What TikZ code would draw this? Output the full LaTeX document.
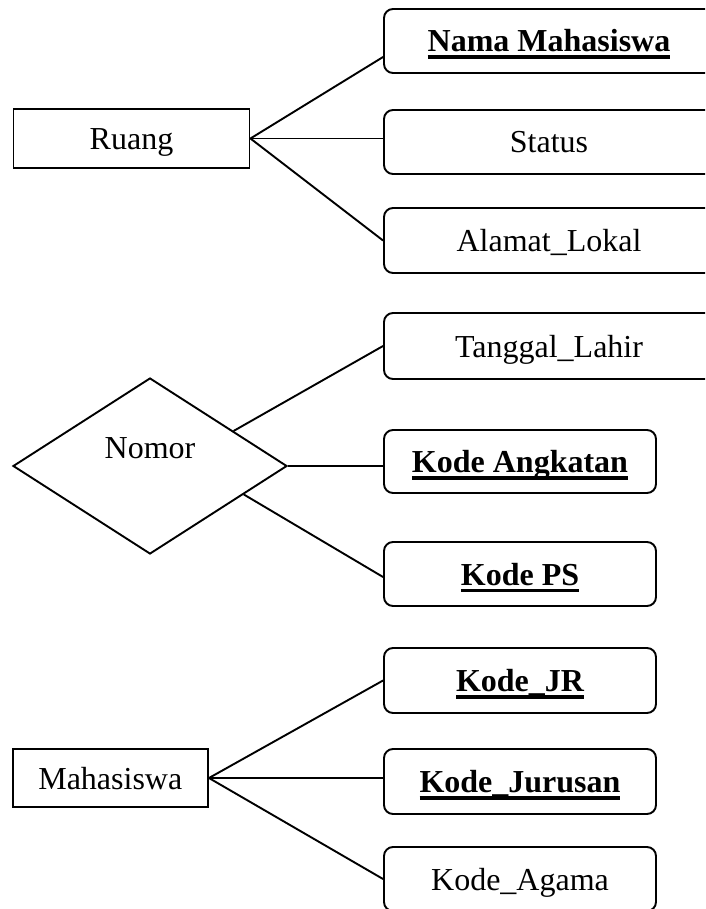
\documentclass[tikz,border=0pt]{standalone}
\usepackage{fontspec}
\setmainfont{Liberation Serif}
\usetikzlibrary{shapes.geometric,calc}
\newcommand{\ulbold}[1]{\setbox0=\hbox{\bfseries #1}\rlap{\raisebox{-7pt}{\rule{\wd0}{3.5pt}}}\box0}
\tikzset{
  ent/.style={draw, rectangle, line width=1.9pt, inner sep=0pt, text height=22pt, text depth=0pt, font=\fontsize{32}{38}\selectfont},
  attr/.style={draw, rectangle, rounded corners=9pt, line width=1.9pt, inner sep=0pt, text height=22pt, text depth=0pt, font=\fontsize{32}{38}\selectfont},
  wide/.style={minimum width=330pt},
  narrow/.style={minimum width=272pt},
  rel/.style={draw, diamond, line width=1.9pt, inner sep=0pt, minimum width=274pt, minimum height=176pt},
  lbl/.style={inner sep=0pt, text height=22pt, text depth=0pt, font=\fontsize{32}{38}\selectfont},
  conn/.style={line width=1.9pt}
}
\begin{document}
\begin{tikzpicture}[x=1pt,y=-1pt]
\useasboundingbox (0,0) rectangle (705,909);
\clip (0,0) rectangle (705,909);
\fill[white] (0,0) rectangle (705,909);
% entities
\node[ent, minimum width=236pt, minimum height=59pt] (ruang) at (131.5,138.5) {Ruang};
\node[ent, minimum width=195.4pt, minimum height=58pt] (mhs) at (110.3,778) {Mahasiswa};
\node[rel] (nomor) at (150,466) {};
\node[lbl] (nomortxt) at ($(nomor.center)+(0,-19)$) {Nomor};
% attributes
\node[attr, wide, minimum height=64pt] (nama) at (549,41) {\ulbold{Nama Mahasiswa}};
\node[attr, wide, minimum height=64pt] (status) at (549,142) {Status};
\node[attr, wide, minimum height=65pt] (alamat) at (549,240.5) {Alamat\_Lokal};
\node[attr, wide, minimum height=66pt] (tanggal) at (549,346) {Tanggal\_Lahir};
\node[attr, narrow, minimum height=63pt] (angkatan) at (520,461.5) {\ulbold{Kode Angkatan}};
\node[attr, narrow, minimum height=64pt] (ps) at (520,574) {\ulbold{Kode PS}};
\node[attr, narrow, minimum height=65pt] (jr) at (520,680.5) {\ulbold{Kode\_JR}};
\node[attr, narrow, minimum height=65pt] (jurusan) at (520,781.5) {\ulbold{Kode\_Jurusan}};
\node[attr, narrow, minimum height=64pt] (agama) at (520,879) {Kode\_Agama};
% diamond anchor points
\coordinate (nup) at ($(nomor.north)!0.606!(nomor.east)$);
\coordinate (nlo) at ($(nomor.east)!0.32!(nomor.south)$);
% connectors
\draw[conn] (ruang.east) -- ($(nama.west)+(0,16)$);
\draw[conn] (ruang.east) -- (ruang.east -| status.west);
\draw[conn] (ruang.east) -- (alamat.west);
\draw[conn] (nup) -- (tanggal.west);
\draw[conn] (nomor.east) -- (nomor.east -| angkatan.west);
\draw[conn] (nlo) -- ($(ps.west)+(0,3)$);
\draw[conn] (mhs.east) -- (jr.west);
\draw[conn] (mhs.east) -- (mhs.east -| jurusan.west);
\draw[conn] (mhs.east) -- (agama.west);
\end{tikzpicture}
\end{document}
